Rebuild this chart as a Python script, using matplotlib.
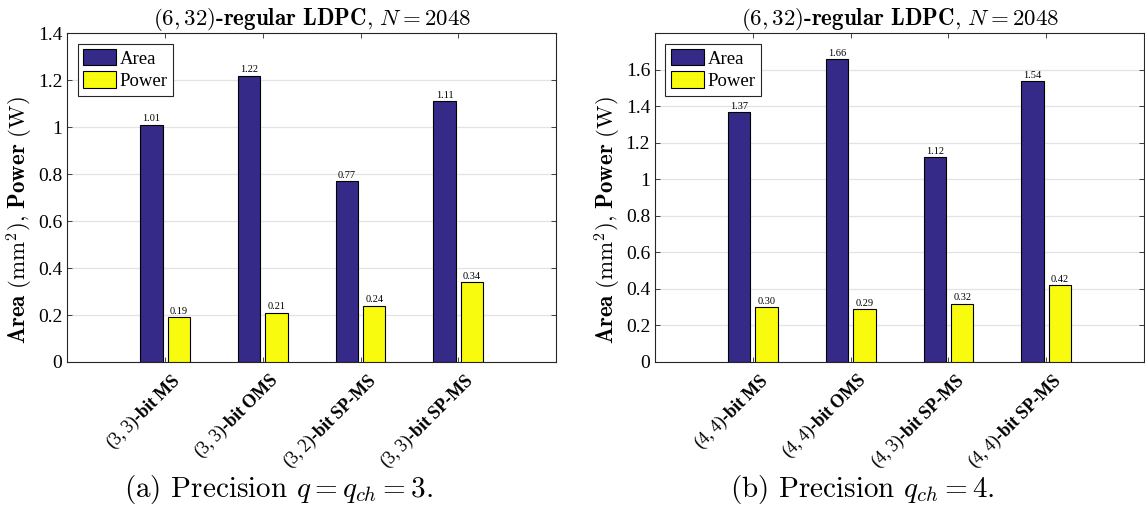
import numpy as np
import matplotlib
matplotlib.use("Agg")
import matplotlib.pyplot as plt
from matplotlib.transforms import ScaledTranslation

# data
labels_a = [r"$\mathrm{(3,3)}\mathbf{‐bit\ MS}$", r"$\mathrm{(3,3)}\mathbf{‐bit\ OMS}$",
            r"$\mathrm{(3,2)}\mathbf{‐bit\ SP‐MS}$", r"$\mathrm{(3,3)}\mathbf{‐bit\ SP‐MS}$"]
area_a = [1.01, 1.22, 0.77, 1.11]
power_a = [0.19, 0.21, 0.24, 0.34]

labels_b = [r"$\mathrm{(4,4)}\mathbf{‐bit\ MS}$", r"$\mathrm{(4,4)}\mathbf{‐bit\ OMS}$",
            r"$\mathrm{(4,3)}\mathbf{‐bit\ SP‐MS}$", r"$\mathrm{(4,4)}\mathbf{‐bit\ SP‐MS}$"]
area_b = [1.37, 1.66, 1.12, 1.54]
power_b = [0.30, 0.29, 0.32, 0.42]

ylims = [1.4, 1.8]
ytop = [1.4, 1.6]
captions = [r"(a) Precision $q = q_{ch} = 3.$", r"(b) Precision $q_{ch} = 4.$"]

plt.rcParams['mathtext.fontset'] = 'cm'
plt.rcParams['mathtext.rm'] = 'Liberation Serif'
plt.rcParams['mathtext.bf'] = 'Liberation Serif:bold'
plt.rcParams['mathtext.it'] = 'Liberation Serif:italic'
plt.rcParams['font.family'] = 'Liberation Serif'

c_area = '#352a87'
c_pow = '#f9fb0e'

fig = plt.figure(figsize=(11.45, 5.24), dpi=100)
axes = [fig.add_axes([0.0588, 0.3092, 0.4268, 0.6273]),
        fig.add_axes([0.5721, 0.3092, 0.4271, 0.6273])]

datas = [(labels_a, area_a, power_a), (labels_b, area_b, power_b)]

for i, ax in enumerate(axes):
    labs, ar, pw = datas[i]
    x = np.arange(1, len(labs) + 1)
    b1 = ax.bar(x - 0.14, ar, 0.23, color=c_area, edgecolor='black', linewidth=0.8, label='Area', zorder=3)
    b2 = ax.bar(x + 0.14, pw, 0.23, color=c_pow, edgecolor='black', linewidth=0.8, label='Power', zorder=3)
    for bars, vals in [(b1, ar), (b2, pw)]:
        for r, v in zip(bars, vals):
            ax.text(r.get_x() + r.get_width() / 2, v + 0.006, '%.2f' % v,
                    ha='center', va='bottom', fontsize=7.5, zorder=4)
    ax.set_xlim(0, 5)
    ax.set_ylim(0, ylims[i])
    ax.set_yticks(np.arange(0, ytop[i] + 0.01, 0.2))
    ax.yaxis.set_major_formatter(plt.FuncFormatter(lambda v, p: '%g' % round(v, 1)))
    ax.set_xticks(x)
    ax.set_xticklabels([])
    # rotated category labels, drawn by hand so they can sit a bit right of the tick
    tr = ax.get_xaxis_transform() + ScaledTranslation(4 / 72, -6 / 72, fig.dpi_scale_trans)
    for xi, lab in zip(x, labs):
        ax.text(xi, 0, lab, transform=tr, rotation=45, ha='right', va='top',
                rotation_mode='anchor', fontsize=13, math_fontfamily='custom')
    ax.tick_params(axis='both', direction='in', length=3.5, top=True, right=True,
                   width=0.6, color='#262626', labelsize=14)
    ax.grid(axis='y', color='#e3e3e3', linewidth=0.9, zorder=0)
    for s in ax.spines.values():
        s.set_color('#262626')
        s.set_linewidth(0.8)
    ax.set_title(r"$(6,32)$-regular LDPC$,\,N = 2048$", fontfamily='cmb10', fontsize=16.5, pad=5)
    ax.set_ylabel(r"$\mathbf{Area}\ (\mathrm{mm}^2),\, \mathbf{Power}\ (\mathrm{W})$", fontsize=16.5, labelpad=2)
    ax.yaxis.label.set_y(0.43)
    leg = ax.legend(loc='upper left', fontsize=13.5, handlelength=1.75, handleheight=0.95,
                    borderpad=0.3, labelspacing=0.2, handletextpad=0.2, fancybox=False,
                    framealpha=1, edgecolor='#262626', borderaxespad=0.55)
    leg.get_frame().set_linewidth(0.8)

fig.text(0.243, 0.065, captions[0], ha='center', va='center', fontsize=21, fontfamily='cmr10')
fig.text(0.753, 0.065, captions[1], ha='center', va='center', fontsize=21, fontfamily='cmr10')

fig.savefig('out.png', dpi=100)
